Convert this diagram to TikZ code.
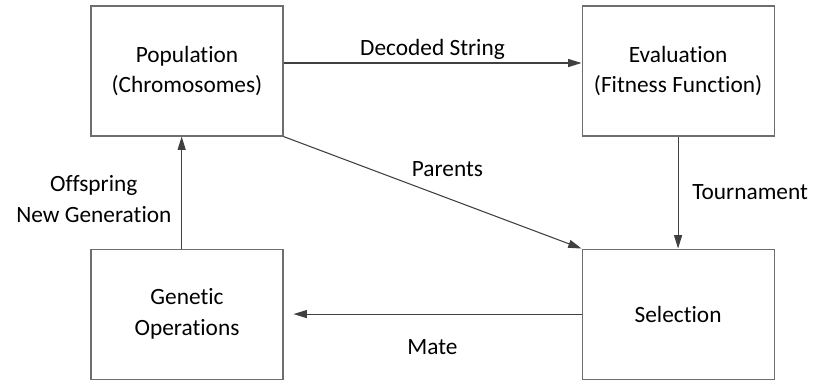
\documentclass[tikz,border=0pt]{standalone}
\usepackage{fontspec}
\setmainfont{Carlito}[Ligatures={TeX,NoCommon}]
\usetikzlibrary{arrows.meta,positioning}
\definecolor{frame}{HTML}{6E6E6E}
\definecolor{wire}{HTML}{404040}

\begin{document}
\begin{tikzpicture}[node distance=84pt and 223.5pt, every node/.style={font=\fontsize{17.5}{23}\selectfont, text=black},
  box/.style={draw=frame, line width=0.8pt, align=center, minimum width=144pt, minimum height=97.5pt, inner sep=0pt},
  arr/.style={-{Triangle[length=10pt,width=6pt]}, line width=0.8pt, wire}]
  \useasboundingbox (0,0) rectangle (612pt,-285pt);
  \node[box] (pop) at (140.25pt,-53.25pt) {Population\\(Chromosomes)};
  \node[box, right=of pop] (eval) {Evaluation\\(Fitness Function)};
  \node[box, below=of pop] (gen) {Genetic\\Operations};
  \node[box, right=of gen] (sel) {Selection};
  \draw[arr] ([yshift=6pt]pop.east) -- node[above, inner sep=2pt] (ldec) {Decoded String} ([yshift=6pt]eval.west);
  \draw[arr] (pop.south east) -- node[pos=0.55, above=12pt] (lpar) {Parents} (sel.north west);
  \draw[arr] (eval.south) -- node[right=7pt] (ltour) {Tournament} (sel.north);
  \draw[arr, shorten >=7.5pt] (sel.west) -- node[below=15pt] (lmate) {Mate} (gen.east);
  \draw[arr] ([xshift=-4pt]gen.north) -- node[left=4pt, yshift=-5pt, align=center] (loff) {Offspring\\New Generation} ([xshift=-4pt]pop.south);
\end{tikzpicture}
\end{document}
